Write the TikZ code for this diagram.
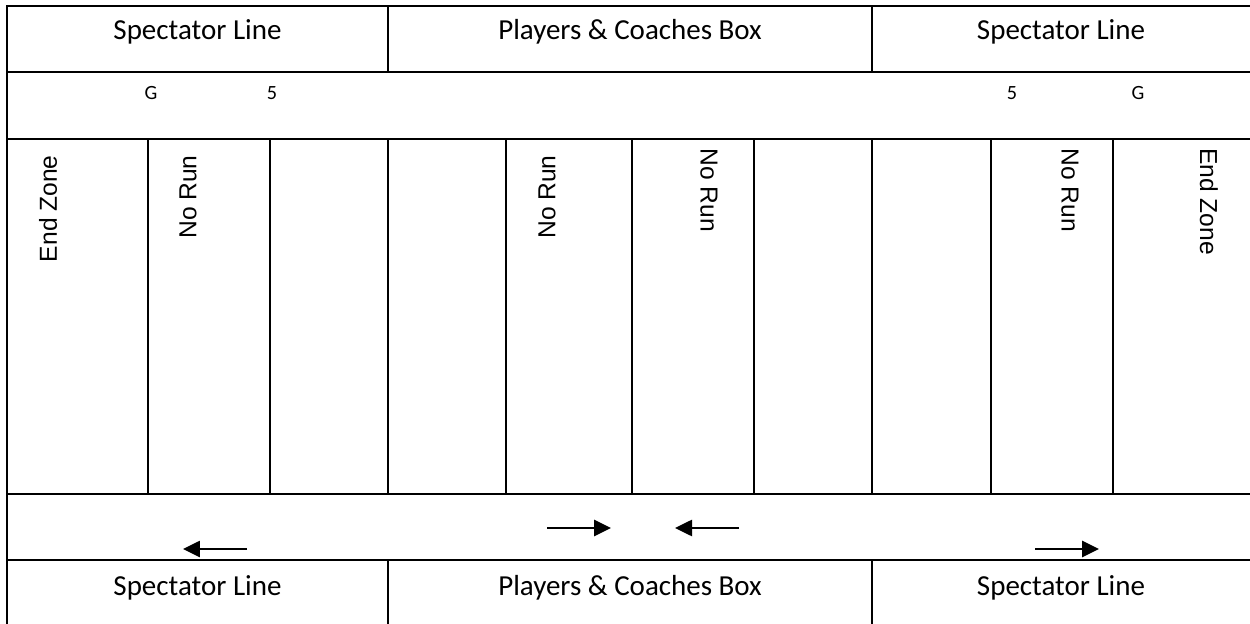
\documentclass[tikz,border=0pt]{standalone}
\usepackage{fontspec}
\setmainfont{Carlito}
\newfontfamily\arialfont{Liberation Sans}
\usetikzlibrary{arrows.meta}
\tikzset{%
    lin/.style={line width = 1.6pt},
    lab/.style={inner sep=0pt, anchor=base, font=\fontsize{16.5}{18}\selectfont},
    yrd/.style={inner sep=0pt, anchor=base, font=\fontsize{11.5}{13}\selectfont},
    upr/.style={inner sep=0pt, rotate=90, anchor=east, font=\arialfont\fontsize{14}{16}\selectfont},
    dnr/.style={inner sep=0pt, rotate=-90, anchor=west, font=\arialfont\fontsize{14}{16}\selectfont},
    pra/.style={line width = 1.5pt, -{Triangle[length=0.34cm,width=0.32cm]}}
}

\begin{document}
\begin{tikzpicture}[x=0.02cm,y=-0.02cm]
    \useasboundingbox (0,0) rectangle (1250,624);
    % field lines
    \draw [lin] (1250,6)--(7,6)--(7,624);
    \foreach \y in {72,139,494,560} \draw [lin] (7,\y)--(1250,\y);
    \foreach \x in {388,872} {\draw [lin] (\x,6)--(\x,72); \draw [lin] (\x,560)--(\x,624);}
    \foreach \x in {148,270,388,506,632,754,872,991,1113} \draw [lin] (\x,139)--(\x,494);
    % boxes along the sides
    \node [lab] (specTL) at (197.5,40) {Spectator Line};
    \node [lab] (boxT) at (630,40) {Players \& Coaches Box};
    \node [lab] (specTR) at (1061,40) {Spectator Line};
    \node [lab] (specBL) at (197.5,595) {Spectator Line};
    \node [lab] (boxB) at (630,595) {Players \& Coaches Box};
    \node [lab] (specBR) at (1061,595) {Spectator Line};
    % yard marks
    \node [yrd] (goalL) at (151,100) {G};
    \node [yrd] (fiveL) at (272,100) {5};
    \node [yrd] (fiveR) at (1012,100) {5};
    \node [yrd] (goalR) at (1138,100) {G};
    % zones
    \node [upr] (endL) at (48,155) {End Zone};
    \node [upr] (runA) at (188,155) {No Run};
    \node [upr] (runB) at (547,155) {No Run};
    \node [dnr] (runC) at (709,148) {No Run};
    \node [dnr] (runD) at (1070,148) {No Run};
    \node [dnr] (endR) at (1209,148) {End Zone};
    % directions
    \coordinate (a1) at (247,549); \coordinate (a2) at (183,549);
    \coordinate (b1) at (547,528); \coordinate (b2) at (611,528);
    \coordinate (c1) at (739,528); \coordinate (c2) at (675,528);
    \coordinate (d1) at (1035,549); \coordinate (d2) at (1099,549);
    \draw [pra] (a1)--(a2);
    \draw [pra] (b1)--(b2);
    \draw [pra] (c1)--(c2);
    \draw [pra] (d1)--(d2);
\end{tikzpicture}
\end{document}
